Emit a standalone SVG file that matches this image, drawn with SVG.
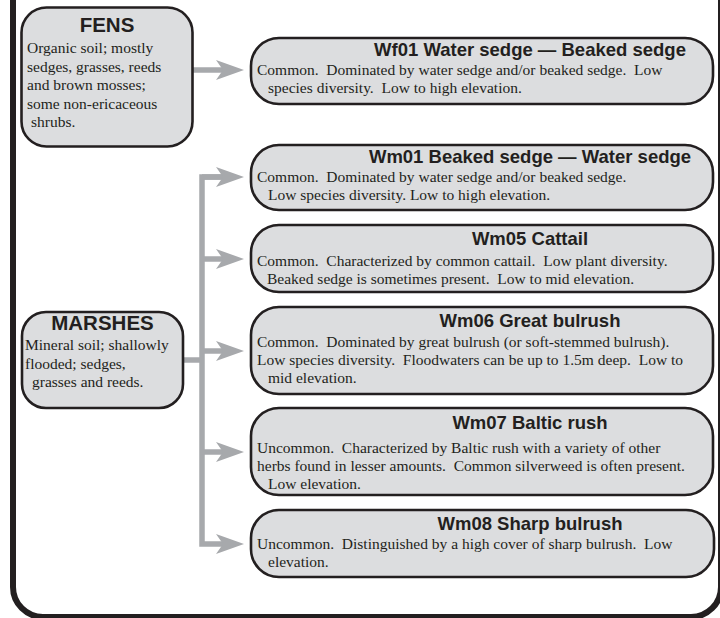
<svg xmlns="http://www.w3.org/2000/svg" width="720" height="618" viewBox="0 0 720 618">
<style>
.box{fill:#dcdddf;stroke:#231f20;stroke-width:2.6}
.ttl{font-family:"Liberation Sans",Arial,sans-serif;font-weight:bold;font-size:18.5px;fill:#231f20;text-anchor:middle}
.big{font-size:20.5px}
.txt{font-family:"Liberation Serif","Times New Roman",serif;font-size:15.5px;fill:#231f20;white-space:pre}
.con{stroke:#a7a9ac;stroke-width:5.5;fill:none}
.head{fill:#a7a9ac}
</style>
<defs>
<marker id="ah" markerUnits="userSpaceOnUse" markerWidth="30" markerHeight="22" refX="14" refY="11" orient="auto">
<path class="head" d="M0,1 L28,11 L0,21 L7,11 Z"/>
</marker>
</defs>
<rect width="720" height="618" fill="#ffffff"/>
<path d="M13,-10 V587 A30,30 0 0 0 43,617 H691 A30,30 0 0 0 721,587 V-10" fill="none" stroke="#231f20" stroke-width="6"/>

<g id="connectors">
<path class="con" d="M193,70 H230" marker-end="url(#ah)"/>
<path class="con" d="M183,360 H202"/>
<path class="con" d="M230,177 H202 V544 H230" marker-end="url(#ah)"/>
<path class="con" d="M202,259 H230" marker-end="url(#ah)"/>
<path class="con" d="M202,351 H230" marker-end="url(#ah)"/>
<path class="con" d="M202,452 H230" marker-end="url(#ah)"/>
<path class="con" d="M202,177 H230" marker-end="url(#ah)"/>
</g>

<g id="fens">
<rect class="box" x="21.5" y="7.5" width="171" height="139" rx="25"/>
<text class="ttl big" x="107" y="32">FENS</text>
<text class="txt" x="27" y="53">Organic soil; mostly</text>
<text class="txt" x="27" y="71.5">sedges, grasses, reeds</text>
<text class="txt" x="27" y="90">and brown mosses;</text>
<text class="txt" x="27" y="108.5">some non-ericaceous</text>
<text class="txt" x="31" y="127">shrubs.</text>
</g>

<g id="marshes">
<rect class="box" x="22" y="312" width="161" height="96" rx="24"/>
<text class="ttl big" x="102.5" y="330">MARSHES</text>
<text class="txt" x="25" y="350">Mineral soil; shallowly</text>
<text class="txt" x="25" y="368.5">flooded; sedges,</text>
<text class="txt" x="32" y="387">grasses and reeds.</text>
</g>

<g id="wf01">
<rect class="box" x="251" y="38" width="462" height="66" rx="28"/>
<text class="ttl" x="530" y="56">Wf01 Water sedge — Beaked sedge</text>
<text class="txt" x="257" y="75">Common.  Dominated by water sedge and/or beaked sedge.  Low</text>
<text class="txt" x="268" y="93">species diversity.  Low to high elevation.</text>
</g>

<g id="wm01">
<rect class="box" x="251" y="145" width="462" height="65" rx="28"/>
<text class="ttl" x="530" y="163">Wm01 Beaked sedge — Water sedge</text>
<text class="txt" x="257" y="182">Common.  Dominated by water sedge and/or beaked sedge.</text>
<text class="txt" x="268" y="200">Low species diversity. Low to high elevation.</text>
</g>

<g id="wm05">
<rect class="box" x="251" y="225" width="462" height="67" rx="28"/>
<text class="ttl" x="530" y="245">Wm05 Cattail</text>
<text class="txt" x="257" y="266">Common.  Characterized by common cattail.  Low plant diversity.</text>
<text class="txt" x="267" y="284">Beaked sedge is sometimes present.  Low to mid elevation.</text>
</g>

<g id="wm06">
<rect class="box" x="251" y="307" width="462" height="87" rx="28"/>
<text class="ttl" x="530" y="327">Wm06 Great bulrush</text>
<text class="txt" x="257" y="347">Common.  Dominated by great bulrush (or soft-stemmed bulrush).</text>
<text class="txt" x="257" y="365">Low species diversity.  Floodwaters can be up to 1.5m deep.  Low to</text>
<text class="txt" x="268" y="383">mid elevation.</text>
</g>

<g id="wm07">
<rect class="box" x="251" y="408" width="462" height="87" rx="28"/>
<text class="ttl" x="530" y="429">Wm07 Baltic rush</text>
<text class="txt" x="257" y="453">Uncommon.  Characterized by Baltic rush with a variety of other</text>
<text class="txt" x="257" y="471">herbs found in lesser amounts.  Common silverweed is often present.</text>
<text class="txt" x="268" y="489">Low elevation.</text>
</g>

<g id="wm08">
<rect class="box" x="251" y="510" width="463" height="67" rx="28"/>
<text class="ttl" x="530" y="530">Wm08 Sharp bulrush</text>
<text class="txt" x="257" y="549">Uncommon.  Distinguished by a high cover of sharp bulrush.  Low</text>
<text class="txt" x="268" y="567">elevation.</text>
</g>
</svg>
